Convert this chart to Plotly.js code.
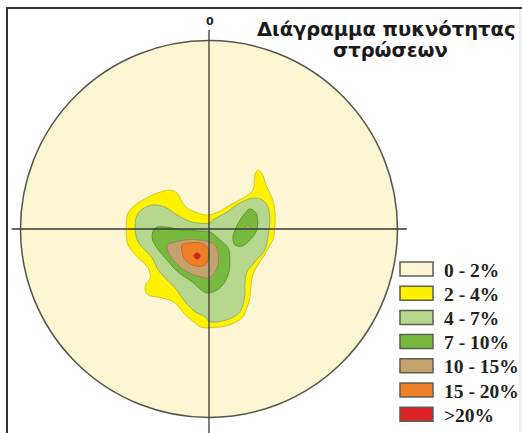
<!DOCTYPE html>
<html>
<head>
<meta charset="utf-8">
<script src="https://cdn.plot.ly/plotly-3.0.1.min.js"></script>
<style>
  html, body { margin: 0; padding: 0; background: #ffffff; }
  #chart { width: 522px; height: 433px; }
</style>
</head>
<body>
<div id="chart"></div>
<script>
// ---- Data (stereonet units, circle radius = 1) ----
const legendLabels = ['0 - 2%', '2 - 4%', '4 - 7%', '7 - 10%', '10 - 15%', '15 - 20%', '>20%'];
const legendColors = ['#FCF6D2', '#FFF200', '#B7D78E', '#78BA3E', '#C4A26E', '#EE8127', '#DC2424'];
const northLabel = '0';
const titleLine1 = 'Διάγραμμα πυκνότητας';
const titleLine2 = 'στρώσεων';

// density isolines
const c2u = [0.259, 0.280, 0.307, 0.333, 0.349, 0.349, 0.339, 0.323, 0.291, 0.259, 0.233, 0.222, 0.217, 0.201, 0.180, 0.111, 0.005, -0.048, -0.074, -0.127, -0.180, -0.249, -0.323, -0.339, -0.333, -0.312, -0.323, -0.376, -0.429, -0.439, -0.439, -0.429, -0.392, -0.323, -0.259, -0.206, -0.169, -0.143, -0.116, -0.074, -0.011, 0.048, 0.111, 0.180, 0.233, 0.243, 0.259];
const c2v = [0.312, 0.296, 0.222, 0.169, 0.101, 0.011, -0.058, -0.085, -0.143, -0.190, -0.243, -0.307, -0.365, -0.418, -0.466, -0.508, -0.524, -0.519, -0.497, -0.455, -0.392, -0.365, -0.349, -0.323, -0.291, -0.259, -0.206, -0.153, -0.085, -0.032, 0.011, 0.085, 0.127, 0.169, 0.196, 0.206, 0.190, 0.143, 0.111, 0.090, 0.074, 0.090, 0.127, 0.164, 0.206, 0.286, 0.312];

const c4u = [0.286, 0.312, 0.323, 0.312, 0.296, 0.243, 0.201, 0.190, 0.190, 0.164, 0.095, 0.005, -0.021, -0.074, -0.127, -0.180, -0.233, -0.270, -0.302, -0.365, -0.381, -0.392, -0.376, -0.302, -0.233, -0.169, -0.090, 0.005, 0.021, 0.095, 0.164, 0.233, 0.286];
const c4v = [0.153, 0.116, 0.048, -0.042, -0.111, -0.175, -0.228, -0.296, -0.349, -0.439, -0.481, -0.492, -0.466, -0.439, -0.386, -0.312, -0.259, -0.217, -0.153, -0.085, -0.058, 0.011, 0.085, 0.127, 0.116, 0.074, 0.037, 0.032, 0.048, 0.090, 0.138, 0.164, 0.153];

const c7u = [-0.302, -0.286, -0.233, -0.143, -0.048, 0.005, 0.058, 0.101, 0.111, 0.101, 0.058, -0.011, -0.090, -0.164, -0.233, -0.286, -0.302];
const c7v = [-0.042, 0.005, 0.011, -0.005, -0.011, -0.016, -0.058, -0.101, -0.164, -0.243, -0.312, -0.339, -0.280, -0.228, -0.153, -0.085, -0.042];

const c7bu = [0.217, 0.249, 0.259, 0.249, 0.217, 0.175, 0.138, 0.127, 0.143, 0.180, 0.217];
const c7bv = [0.106, 0.085, 0.037, -0.016, -0.058, -0.090, -0.085, -0.048, 0.005, 0.069, 0.106];

const c10u = [-0.222, -0.196, -0.127, -0.048, 0.016, 0.042, 0.048, 0.005, -0.021, -0.116, -0.180, -0.217, -0.222];
const c10v = [-0.085, -0.074, -0.058, -0.058, -0.074, -0.101, -0.190, -0.259, -0.259, -0.228, -0.175, -0.122, -0.085];

const c10bu = [0.217, 0.206, 0.195, 0.206, 0.217];
const c10bv = [0.011, 0.022, 0.011, 0.000, 0.011];

const c15u = [-0.143, -0.101, -0.048, -0.011, 0.000, -0.021, -0.074, -0.127, -0.143, -0.143];
const c15v = [-0.085, -0.074, -0.074, -0.095, -0.138, -0.190, -0.196, -0.164, -0.122, -0.085];

const c20u = [-0.047, -0.063, -0.079, -0.063, -0.047];
const c20v = [-0.143, -0.127, -0.143, -0.159, -0.143];

// ---- Layout geometry ----
const W = 522, H = 433;
const M = {l: 9, r: 113, t: 29, b: 0};
const PW = W - M.l - M.r, PH = H - M.t - M.b;
const R = 188.5;                       // px per unit
const xr = [-(PW / 2) / R, (PW / 2) / R];
const yr = [-(H - 229) / R, (229 - M.t) / R];
const px = x => (x - M.l) / PW;        // pixel -> paper
const py = y => (H - M.b - y) / PH;

const outline = ['#B9B28A', '#D2C628', '#8FB266', '#5A982A', '#A08258', '#D26816', '#B81818'];

function band(u, v, idx) {
  return {
    type: 'scatter', mode: 'lines', x: u, y: v, fill: 'toself',
    fillcolor: legendColors[idx],
    line: {color: outline[idx], width: 1, shape: 'spline', smoothing: 1},
    hoverinfo: 'skip', showlegend: false
  };
}

const data = [
  band(c2u, c2v, 1),
  band(c4u, c4v, 2),
  band(c7u, c7v, 3),
  band(c7bu, c7bv, 3),
  band(c10u, c10v, 4),
  band(c10bu, c10bv, 4),
  band(c15u, c15v, 5),
  band(c20u, c20v, 6)
];

const shapes = [
  {type: 'circle', xref: 'x', yref: 'y', x0: -1, x1: 1, y0: -1, y1: 1,
   fillcolor: legendColors[0], line: {color: '#55554d', width: 1.5}, layer: 'below'},
  {type: 'line', xref: 'x', yref: 'y', x0: -1.047, x1: 1.050, y0: 0, y1: 0,
   line: {color: '#3a3a36', width: 1.3}},
  {type: 'line', xref: 'x', yref: 'y', x0: 0, x1: 0, y0: 1.056, y1: -1.082,
   line: {color: '#3a3a36', width: 1.3}},
  // frame
  {type: 'line', xref: 'paper', yref: 'paper', x0: px(6), x1: px(522), y0: py(8), y1: py(8),
   line: {color: '#333333', width: 2}},
  {type: 'line', xref: 'paper', yref: 'paper', x0: px(7), x1: px(7), y0: py(7), y1: py(433),
   line: {color: '#333333', width: 2}},
  {type: 'line', xref: 'paper', yref: 'paper', x0: px(520), x1: px(520), y0: py(9), y1: py(433),
   line: {color: '#d8d8d8', width: 1}}
];

const titleFont = {family: 'DejaVu Sans', size: 19.5, color: '#1a1a1a', weight: 'bold'};
const annotations = [
  {xref: 'paper', yref: 'paper', x: px(210), y: py(22), text: northLabel, showarrow: false,
   xanchor: 'center', yanchor: 'middle', font: {family: 'DejaVu Sans', size: 11, color: '#222', weight: 'bold'}},
  {xref: 'paper', yref: 'paper', x: px(386), y: py(29.5), text: titleLine1, showarrow: false,
   height: 21, xanchor: 'center', yanchor: 'middle', font: titleFont},
  {xref: 'paper', yref: 'paper', x: px(390), y: py(50.5), text: titleLine2, showarrow: false,
   height: 21, xanchor: 'center', yanchor: 'middle', font: titleFont}
];

legendLabels.forEach((lab, k) => {
  const cy = 269 + 24.2 * k;
  shapes.push({type: 'rect', xref: 'paper', yref: 'paper',
    x0: px(400), x1: px(433), y0: py(cy - 7), y1: py(cy + 7),
    fillcolor: legendColors[k], line: {color: '#5e5e58', width: 1.5}});
  annotations.push({xref: 'paper', yref: 'paper', x: px(442), y: py(cy + 1), text: lab,
    showarrow: false, xanchor: 'left', yanchor: 'middle',
    font: {family: 'Liberation Serif', size: 19.5, color: '#222', weight: 'bold'}});
});

const layout = {
  width: W, height: H, margin: M,
  paper_bgcolor: '#ffffff', plot_bgcolor: '#ffffff',
  xaxis: {range: xr, visible: false, showgrid: false, zeroline: false, fixedrange: true},
  yaxis: {range: yr, visible: false, showgrid: false, zeroline: false, fixedrange: true},
  shapes: shapes, annotations: annotations, showlegend: false
};

Plotly.newPlot('chart', data, layout, {displayModeBar: false, staticPlot: true});
</script>
</body>
</html>
